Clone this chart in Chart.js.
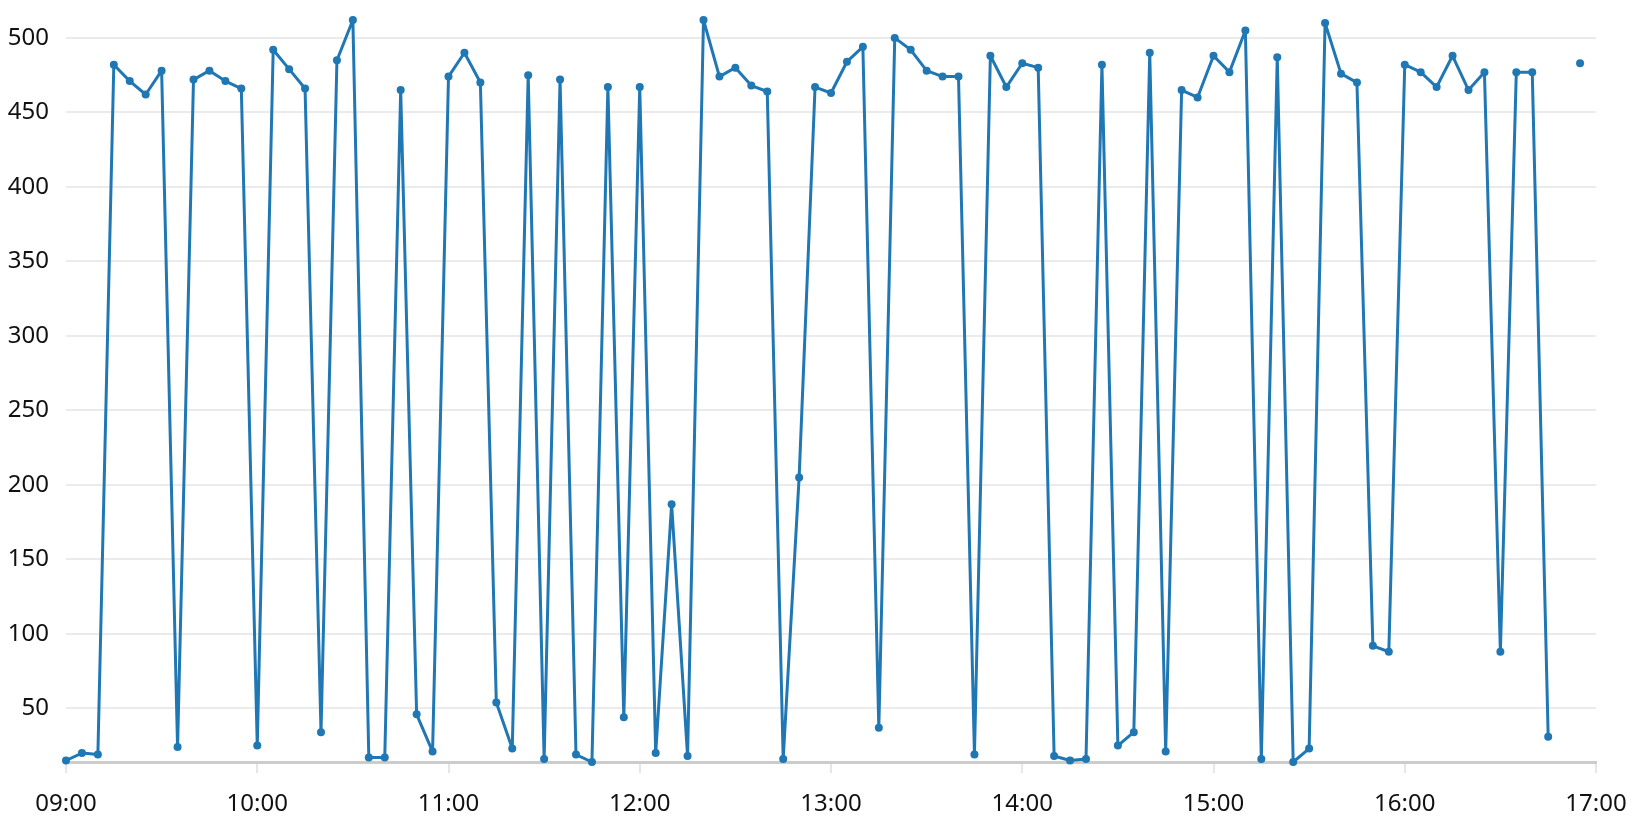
<!DOCTYPE html>
<html>
<head>
<meta charset="utf-8">
<script src="https://cdn.jsdelivr.net/npm/chart.js@4"></script>
<style>
  html, body { margin: 0; padding: 0; background: #fff; }
  #wrap { width: 1636px; height: 822px; }
</style>
</head>
<body>
<div id="wrap"><canvas id="lecturasChart" width="1636" height="822"></canvas></div>
<script>
// horas de lectura (cada 5 minutos)
var horas = [
    '09:00', '09:05', '09:10', '09:15', '09:20', '09:25', '09:30', '09:35', '09:40', '09:45', '09:50', '09:55',
    '10:00', '10:05', '10:10', '10:15', '10:20', '10:25', '10:30', '10:35', '10:40', '10:45', '10:50', '10:55',
    '11:00', '11:05', '11:10', '11:15', '11:20', '11:25', '11:30', '11:35', '11:40', '11:45', '11:50', '11:55',
    '12:00', '12:05', '12:10', '12:15', '12:20', '12:25', '12:30', '12:35', '12:40', '12:45', '12:50', '12:55',
    '13:00', '13:05', '13:10', '13:15', '13:20', '13:25', '13:30', '13:35', '13:40', '13:45', '13:50', '13:55',
    '14:00', '14:05', '14:10', '14:15', '14:20', '14:25', '14:30', '14:35', '14:40', '14:45', '14:50', '14:55',
    '15:00', '15:05', '15:10', '15:15', '15:20', '15:25', '15:30', '15:35', '15:40', '15:45', '15:50', '15:55',
    '16:00', '16:05', '16:10', '16:15', '16:20', '16:25', '16:30', '16:35', '16:40', '16:45', '16:50', '16:55'
];

var valores = [
    15, 20, 19, 482, 471, 462, 478, 24, 472, 478, 471, 466,
    25, 492, 479, 466, 34, 485, 512, 17, 17, 465, 46, 21,
    474, 490, 470, 54, 23, 475, 16, 472, 19, 14, 467, 44,
    467, 20, 187, 18, 512, 474, 480, 468, 464, 16, 205, 467,
    463, 484, 494, 37, 500, 492, 478, 474, 474, 19, 488, 467,
    483, 480, 18, 15, 16, 482, 25, 34, 490, 21, 465, 460,
    488, 477, 505, 16, 487, 14, 23, 510, 476, 470, 92, 88,
    482, 477, 467, 488, 465, 477, 88, 477, 477, 31, null, 483
];

var ticksY = [50, 100, 150, 200, 250, 300, 350, 400, 450, 500];
var ticksX = ['09:00', '10:00', '11:00', '12:00', '13:00', '14:00', '15:00', '16:00', '17:00'];

function aMinutos(h) {
    var p = h.split(':');
    return parseInt(p[0], 10) * 60 + parseInt(p[1], 10);
}
function aHora(m) {
    var h = Math.floor(m / 60), mm = m % 60;
    return (h < 10 ? '0' : '') + h + ':' + (mm < 10 ? '0' : '') + mm;
}

document.addEventListener('DOMContentLoaded', function() {
    var puntos = horas.map(function(h, i) {
        return { x: aMinutos(h), y: valores[i] };
    });
    var soloValores = valores.filter(function(v) { return v !== null; });

    var ctx = document.getElementById('lecturasChart').getContext('2d');
    var lecturasChart = new Chart(ctx, {
        type: 'line',
        data: {
            datasets: [{
                label: 'Lecturas',
                data: puntos,
                borderColor: '#1f77b4',
                backgroundColor: '#1f77b4',
                borderWidth: 3,
                borderJoinStyle: 'round',
                pointRadius: 4,
                pointHoverRadius: 4,
                pointBorderWidth: 0,
                tension: 0,
                spanGaps: false,
                clip: false
            }]
        },
        options: {
            responsive: false,
            animation: false,
            layout: {
                padding: { left: 8, right: 40, top: 20, bottom: 0 }
            },
            plugins: {
                legend: { display: false },
                tooltip: { enabled: false }
            },
            scales: {
                x: {
                    type: 'linear',
                    min: aMinutos(ticksX[0]),
                    max: aMinutos(ticksX[ticksX.length - 1]),
                    afterBuildTicks: function(axis) {
                        axis.ticks = ticksX.map(function(t) { return { value: aMinutos(t) }; });
                    },
                    afterFit: function(axis) {
                        axis.height = 60;
                        axis.paddingLeft = 0;
                        axis.paddingRight = 0;
                    },
                    ticks: {
                        callback: function(v) { return aHora(v); },
                        color: '#111',
                        font: { family: 'Noto Sans', size: 24 },
                        padding: 17,
                        maxRotation: 0
                    },
                    grid: {
                        drawOnChartArea: false,
                        drawTicks: true,
                        tickLength: 11,
                        color: '#e6e6e6',
                        lineWidth: 2
                    },
                    border: { display: true, color: '#cccccc', width: 3 }
                },
                y: {
                    type: 'linear',
                    min: Math.min.apply(null, soloValores),
                    max: Math.max.apply(null, soloValores),
                    afterBuildTicks: function(axis) {
                        axis.ticks = ticksY.map(function(v) { return { value: v }; });
                    },
                    afterFit: function(axis) {
                        axis.width = 58;
                        axis.paddingTop = 0;
                        axis.paddingBottom = 0;
                    },
                    ticks: {
                        color: '#111',
                        font: { family: 'Noto Sans', size: 24 },
                        padding: 17
                    },
                    grid: {
                        drawTicks: false,
                        color: '#ebebeb',
                        lineWidth: 2
                    },
                    border: { display: false }
                }
            }
        }
    });
});
</script>
</body>
</html>
